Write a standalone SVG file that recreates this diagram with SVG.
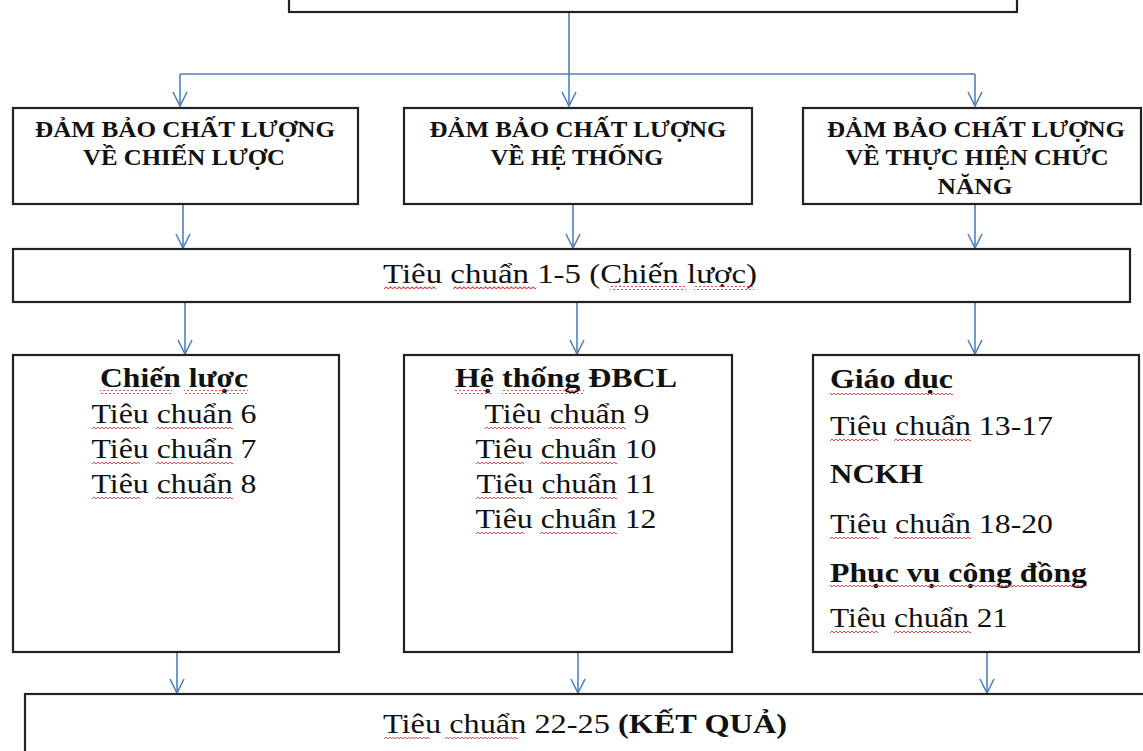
<svg xmlns="http://www.w3.org/2000/svg" xmlns:xlink="http://www.w3.org/1999/xlink" width="1143" height="751" viewBox="0 0 1143 751">
  <style>
    .box { fill: #ffffff; stroke: #222222; stroke-width: 2.2; }
    .link { fill: none; stroke: #4f81bd; stroke-width: 1.6; }
    .head { font-family: "Liberation Serif", "Times New Roman", serif; font-weight: bold; font-size: 24px; fill: #111111; text-anchor: middle; }
    .t { font-family: "Liberation Serif", "Times New Roman", serif; font-size: 27px; fill: #111111; }
    .c { text-anchor: middle; }
    .b { font-weight: bold; }
  </style>
  <defs>
    <marker id="arr" viewBox="0 0 16 16" refX="15" refY="8" markerWidth="16" markerHeight="16" orient="auto" markerUnits="userSpaceOnUse">
      <path d="M1 1 L15 8 L1 15" fill="none" stroke="#4f81bd" stroke-width="1.6"/>
    </marker>
    <pattern id="wave" width="4" height="4" patternUnits="userSpaceOnUse">
      <path d="M0 3 L2 1 L4 3" fill="none" stroke="#d83a3a" stroke-width="0.9"/>
    </pattern>
    <!-- spell-check squiggle under "Tiêu chuẩn" -->
    <g id="tcu">
      <rect x="0" y="0" width="48" height="4" fill="url(#wave)"/>
      <rect x="64" y="0" width="77" height="4" fill="url(#wave)"/>
    </g>
  </defs>

  <!-- connectors -->
  <g id="connectors">
    <path class="link" d="M569 12 V106" marker-end="url(#arr)"/>
    <path class="link" d="M180 74 H975"/>
    <path class="link" d="M180 74 V106" marker-end="url(#arr)"/>
    <path class="link" d="M975 74 V106" marker-end="url(#arr)"/>

    <path class="link" d="M183 204 V248" marker-end="url(#arr)"/>
    <path class="link" d="M573 204 V248" marker-end="url(#arr)"/>
    <path class="link" d="M975 204 V248" marker-end="url(#arr)"/>

    <path class="link" d="M185 302 V354" marker-end="url(#arr)"/>
    <path class="link" d="M577 302 V354" marker-end="url(#arr)"/>
    <path class="link" d="M975 302 V354" marker-end="url(#arr)"/>

    <path class="link" d="M177 652 V693" marker-end="url(#arr)"/>
    <path class="link" d="M578 652 V693" marker-end="url(#arr)"/>
    <path class="link" d="M987 652 V693" marker-end="url(#arr)"/>
  </g>

  <!-- top box (cut off at the upper edge) -->
  <g id="top">
    <rect class="box" x="289" y="-40" width="728" height="52"/>
  </g>

  <!-- row 1 -->
  <g id="strategy-qa">
    <rect class="box" x="13" y="108" width="345" height="96"/>
    <text class="head" x="185" y="137" textLength="300" lengthAdjust="spacingAndGlyphs">ĐẢM BẢO CHẤT LƯỢNG</text>
    <text class="head" x="184" y="165" textLength="202" lengthAdjust="spacingAndGlyphs">VỀ CHIẾN LƯỢC</text>
  </g>
  <g id="system-qa">
    <rect class="box" x="404" y="108" width="348" height="96"/>
    <text class="head" x="578" y="137" textLength="297" lengthAdjust="spacingAndGlyphs">ĐẢM BẢO CHẤT LƯỢNG</text>
    <text class="head" x="577" y="165" textLength="173" lengthAdjust="spacingAndGlyphs">VỀ HỆ THỐNG</text>
  </g>
  <g id="function-qa">
    <rect class="box" x="803" y="108" width="338" height="96"/>
    <text class="head" x="976" y="137" textLength="298" lengthAdjust="spacingAndGlyphs">ĐẢM BẢO CHẤT LƯỢNG</text>
    <text class="head" x="977" y="165" textLength="263" lengthAdjust="spacingAndGlyphs">VỀ THỰC HIỆN CHỨC</text>
    <text class="head" x="975" y="194" textLength="75" lengthAdjust="spacingAndGlyphs">NĂNG</text>
  </g>

  <!-- row 2 -->
  <g id="standards-1-5">
    <rect class="box" x="13" y="249" width="1117" height="53"/>
    <text class="t c" x="570" y="283" textLength="374" lengthAdjust="spacingAndGlyphs">Tiêu chuẩn 1-5 (Chiến lược)</text>
    <use xlink:href="#tcu" href="#tcu" transform="translate(384 286) scale(1.08 1)"/>
    <rect x="610" y="286" width="76" height="4" fill="url(#wave)"/>
    <rect x="694" y="286" width="60" height="4" fill="url(#wave)"/>
  </g>

  <!-- row 3 -->
  <g id="strategy">
    <rect class="box" x="13" y="355" width="326" height="297"/>
    <text class="t c b" x="174" y="387" textLength="148" lengthAdjust="spacingAndGlyphs">Chiến lược</text>
    <rect x="100" y="390" width="72" height="4" fill="url(#wave)"/>
    <rect x="184" y="390" width="64" height="4" fill="url(#wave)"/>
    <text class="t c" x="174" y="423" textLength="165" lengthAdjust="spacingAndGlyphs">Tiêu chuẩn 6</text>
    <use xlink:href="#tcu" href="#tcu" x="92" y="426"/>
    <text class="t c" x="174" y="458" textLength="165" lengthAdjust="spacingAndGlyphs">Tiêu chuẩn 7</text>
    <use xlink:href="#tcu" href="#tcu" x="92" y="461"/>
    <text class="t c" x="174" y="493" textLength="165" lengthAdjust="spacingAndGlyphs">Tiêu chuẩn 8</text>
    <use xlink:href="#tcu" href="#tcu" x="92" y="496"/>
  </g>

  <g id="qa-system">
    <rect class="box" x="404" y="355" width="328" height="297"/>
    <text class="t c b" x="566" y="387" textLength="222" lengthAdjust="spacingAndGlyphs">Hệ thống ĐBCL</text>
    <rect x="455" y="390" width="36" height="4" fill="url(#wave)"/>
    <rect x="502" y="390" width="82" height="4" fill="url(#wave)"/>
    <text class="t c" x="567" y="423" textLength="165" lengthAdjust="spacingAndGlyphs">Tiêu chuẩn 9</text>
    <use xlink:href="#tcu" href="#tcu" x="485" y="426"/>
    <text class="t c" x="566" y="458" textLength="181" lengthAdjust="spacingAndGlyphs">Tiêu chuẩn 10</text>
    <use xlink:href="#tcu" href="#tcu" x="476" y="461"/>
    <text class="t c" x="566" y="493" textLength="179" lengthAdjust="spacingAndGlyphs">Tiêu chuẩn 11</text>
    <use xlink:href="#tcu" href="#tcu" x="476" y="496"/>
    <text class="t c" x="566" y="528" textLength="181" lengthAdjust="spacingAndGlyphs">Tiêu chuẩn 12</text>
    <use xlink:href="#tcu" href="#tcu" x="476" y="531"/>
  </g>

  <g id="functions">
    <rect class="box" x="813" y="355" width="326" height="297"/>
    <text class="t b" x="830" y="388" textLength="123" lengthAdjust="spacingAndGlyphs">Giáo dục</text>
    <rect x="830" y="391" width="123" height="4" fill="url(#wave)"/>
    <text class="t" x="830" y="435" textLength="223" lengthAdjust="spacingAndGlyphs">Tiêu chuẩn 13-17</text>
    <use xlink:href="#tcu" href="#tcu" x="830" y="438"/>
    <text class="t b" x="830" y="483" textLength="93" lengthAdjust="spacingAndGlyphs">NCKH</text>
    <text class="t" x="830" y="533" textLength="223" lengthAdjust="spacingAndGlyphs">Tiêu chuẩn 18-20</text>
    <use xlink:href="#tcu" href="#tcu" x="830" y="536"/>
    <text class="t b" x="830" y="582" textLength="257" lengthAdjust="spacingAndGlyphs">Phục vụ cộng đồng</text>
    <rect x="830" y="585" width="257" height="4" fill="url(#wave)"/>
    <text class="t" x="830" y="627" textLength="178" lengthAdjust="spacingAndGlyphs">Tiêu chuẩn 21</text>
    <use xlink:href="#tcu" href="#tcu" x="830" y="630"/>
  </g>

  <!-- bottom box (cut off at the lower and right edges) -->
  <g id="results">
    <rect class="box" x="25" y="694" width="1140" height="80"/>
    <text class="t c" x="585" y="733" textLength="404" lengthAdjust="spacingAndGlyphs">Tiêu chuẩn 22-25 <tspan class="b">(KẾT QUẢ)</tspan></text>
    <use xlink:href="#tcu" href="#tcu" transform="translate(384 736) scale(0.95 1)"/>
  </g>
</svg>
